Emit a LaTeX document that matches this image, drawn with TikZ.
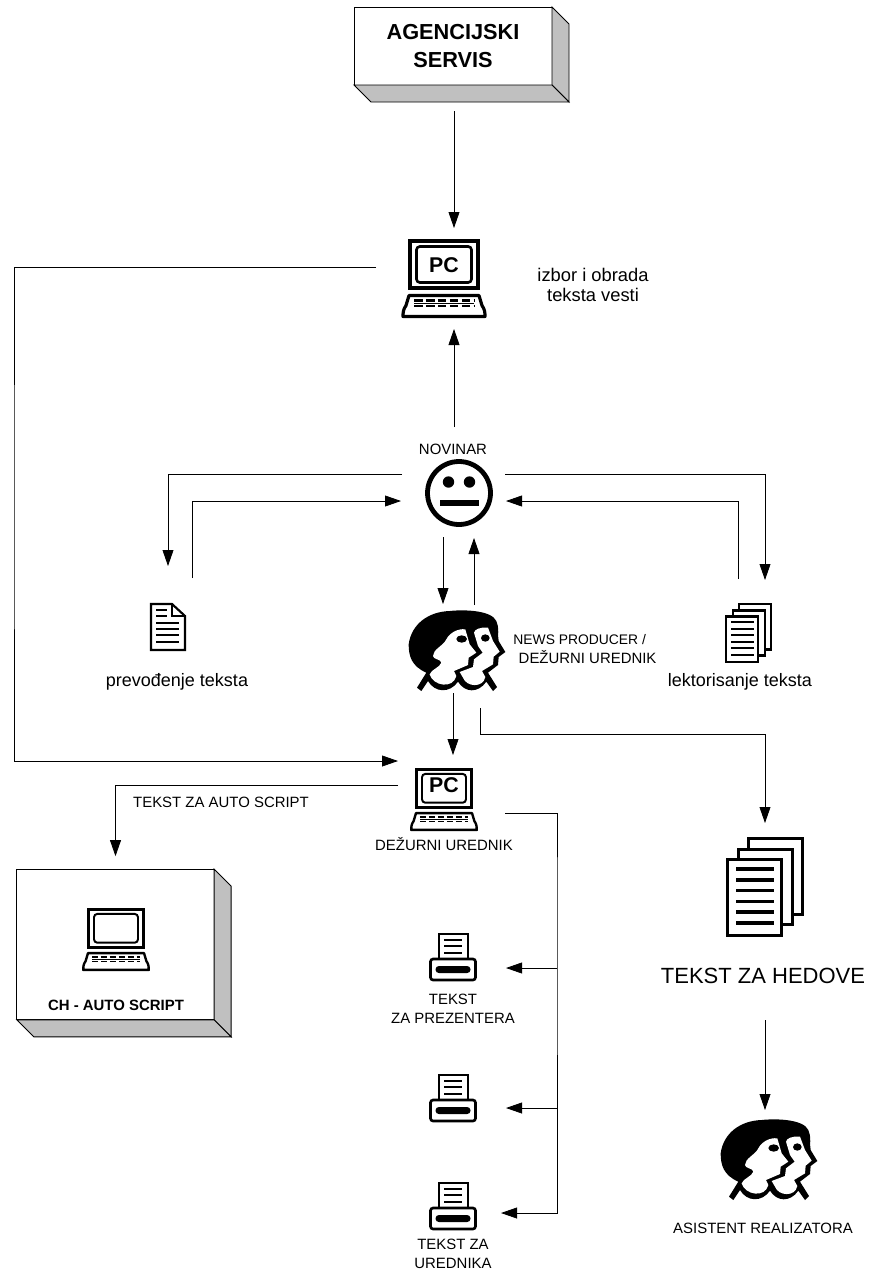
\documentclass[tikz,border=0pt]{standalone}
\usepackage{fontspec}
\setmainfont{Liberation Sans}
\usetikzlibrary{calc}
\usetikzlibrary{shapes,arrows.meta}
\definecolor{sidegray}{HTML}{C0C0C0}

\tikzset{
  pics/computer/.style={code={
    \draw[line width=#1] (-34,-37.5) rectangle (34,9.5);
    \draw[line width=.7*#1,rounded corners=2.5pt] (-27.5,-32) rectangle (27.5,4);
    \draw[line width=#1*.85,line join=round] (-35,17) -- (35,17) -- (38,27) .. controls (41,31) and (41,35) .. (41,38) -- (-41,38) .. controls (-41,35) and (-41,31) .. (-38,27) -- cycle;
    \draw[line width=.6*#1,dash pattern=on 2.3*#1 off .9*#1] (-30,22) -- (30,22);
    \draw[line width=.6*#1,dash pattern=on 2.3*#1 off .9*#1] (-30,27.5) -- (30,27.5);
    \draw[line width=.25*#1] (-30,24.7) -- (30,24.7);
  }},
  heads/.pic={
    \begin{scope}[x=.25pt,y=-.25pt,shift={(-237,-180)}]
      \fill[black] (92,160) .. controls (100,100) and (150,62) .. (215,60) .. controls (260,55) and (340,58) .. (355,90) .. controls (365,110) and (358,135) .. (362,150) -- (382,183) -- (362,198) -- (360,222) -- (330,245) -- (357,288) -- (345,300) -- (325,272) .. controls (300,308) and (260,305) .. (240,272) .. controls (215,308) and (170,305) .. (150,270) -- (130,300) -- (117,290) -- (145,245) .. controls (100,225) and (92,195) .. (92,160) -- cycle;
      \fill[white] (262,115) .. controls (240,112) and (215,125) .. (205,145) .. controls (195,165) and (165,175) .. (165,195) .. controls (165,205) and (190,205) .. (190,215) .. controls (185,230) and (160,235) .. (155,250) .. controls (165,285) and (225,295) .. (235,255) -- (228,240) -- (270,222) -- (272,200) -- (295,185) -- (275,160) -- cycle;
      \fill[white] (330,110) .. controls (305,108) and (290,115) .. (288,125) -- (300,165) -- (314,185) -- (288,205) -- (285,228) -- (245,243) -- (255,260) .. controls (265,288) and (315,292) .. (322,258) -- (312,240) -- (345,220) -- (347,197) -- (365,182) -- (345,150) -- cycle;
      \fill[black] (251,144) ellipse (16 and 11);
      \fill[black] (322,141) ellipse (13 and 11);
    \end{scope}
  },
  page/.pic={
    \draw (-17,-23) -- (4,-23) -- (17,-11) -- (17,23) -- (-17,23) -- cycle;
    \draw (4,-23) -- (4,-11) -- (17,-11);
    \draw (-12,-17) -- (-1,-17);
    \draw (-12,-11) -- (-1,-11);
    \draw (-12,-4) -- (11,-4);
    \draw (-12,2) -- (11,2);
    \draw (-12,8) -- (11,8);
    \draw (-12,15) -- (11,15);
  },
  pagestack/.pic={
    \draw[fill=white] (-16.5,-48.5) rectangle (37.5,27.5);
    \draw[fill=white] (-26.5,-37.5) rectangle (27.5,37.5);
    \draw[fill=white] (-37.5,-27.5) rectangle (16.5,48.5);
    \foreach \liney in {-18,-7.2,3.6,14.4,25.2,36} {
      \draw (-29,\liney) -- (9,\liney);
    }
  },
  printer/.pic={
    \draw[fill=white,line width=1.5pt] (-14.5,-36) rectangle (14.5,-11);
    \draw[line width=1.5pt] (-9,-29.5) -- (9,-29.5);
    \draw[line width=1.5pt] (-9,-23.5) -- (9,-23.5);
    \draw[line width=1.5pt] (-9,-17) -- (9,-17);
    \draw[fill=white,line width=2pt,rounded corners=2pt] (-22.5,-10.5) rectangle (22.5,10.5);
    \fill[black,rounded corners=2.5pt] (-17.5,-3.5) rectangle (17.5,3.5);
  }
}

\begin{document}
\begin{tikzpicture}[x=.75pt,y=-.75pt,>={Triangle[length=12pt,width=8.2pt]},line width=.6pt,
  iconbox/.style={rectangle,inner sep=0pt,outer sep=0pt},
  raisedbox/.style={rectangle,draw,fill=white,inner sep=0pt,outer sep=0pt,line width=.7pt},
  txt/.style={font=\fontsize{11.2pt}{14.5pt}\selectfont,align=center,inner sep=0pt,text=black}]
\useasboundingbox (0,0) rectangle (872,1275);

% raised boxes
\node[raisedbox,minimum width=148.5pt,minimum height=58.5pt,align=center,font=\fontsize{16.3pt}{21pt}\selectfont\bfseries] (agencija) at (453,46) {AGENCIJSKI\\SERVIS};
\node[raisedbox,minimum width=148pt,minimum height=113pt] (chauto) at (115.5,944.5) {};
\foreach \boxname in {agencija,chauto} {
  \draw[fill=sidegray,line width=.7pt] (\boxname.north east) -- ++(17,17) -- ($(\boxname.south east)+(17,17)$) -- (\boxname.south east) -- cycle;
  \draw[fill=sidegray,line width=.7pt] (\boxname.south west) -- ++(17,17) -- ($(\boxname.south east)+(17,17)$) -- (\boxname.south east) -- cycle;
}

% icon places
\node[iconbox,minimum width=63pt,minimum height=59.25pt] (pctop) at (444,278.5) {};
\node[iconbox,minimum width=52.5pt,minimum height=52.5pt] (novinar) at (459,493) {};
\node[iconbox,minimum width=72pt,minimum height=61.5pt] (prod) at (457,651) {};
\node[iconbox,minimum width=27pt,minimum height=36pt] (prevod) at (168,627) {};
\node[iconbox,minimum width=35.25pt,minimum height=45pt] (lektor) at (748.5,633) {};
\node[iconbox,minimum width=51pt,minimum height=47.25pt] (pcmid) at (444,799.5) {};
\node[iconbox,minimum width=58.5pt,minimum height=75pt] (hedovi) at (765,887) {};
\node[iconbox,minimum width=72pt,minimum height=61.5pt] (asistent) at (769,1160) {};
\node[iconbox,minimum width=36pt,minimum height=19.5pt] (prone) at (453,968) {};
\node[iconbox,minimum width=36pt,minimum height=21pt] (prtwo) at (453,1108) {};
\node[iconbox,minimum width=36pt,minimum height=25.5pt] (prthree) at (453,1213) {};

% icons
\pic at (pctop) {computer=2.8pt};
\pic[scale=.8] at (pcmid) {computer=2.1pt};
\pic[scale=.8] at (116,939.5) {computer=2.1pt};
\draw[line width=3.6pt] (novinar) circle (31.5);
\fill (448.5,482) circle (5.7);
\fill (469.5,482) circle (5.7);
\fill (439.5,499.5) rectangle (478.5,505.5);
\pic at (prod) {heads};
\pic at (asistent) {heads};
\pic[line width=1.6pt] at (prevod) {page};
\pic[line width=1.6pt,scale=.6] at (lektor) {pagestack};
\pic[line width=2.6pt] at (hedovi) {pagestack};
\pic at (453,969.5) {printer};
\pic at (453,1110.5) {printer};
\pic at (453,1218.5) {printer};

% texts
\node[font=\fontsize{16pt}{18pt}\selectfont\bfseries,inner sep=0pt] (pctoplabel) at (444,265) {PC};
\node[font=\fontsize{16pt}{18pt}\selectfont\bfseries,inner sep=0pt] (pcmidlabel) at (444,785) {PC};
\node[txt,font=\fontsize{13.75pt}{15.25pt}\selectfont] (izbor) at (593,285) {izbor i obrada\\ teksta vesti};
\node[txt] (novinarlabel) at (453,449) {NOVINAR};
\node[txt,align=left,anchor=west] (prodlabel) at (513,649) {{\fontsize{10.4pt}{14.5pt}\selectfont NEWS PRODUCER /}\\ \hspace*{4pt}DEŽURNI UREDNIK};
\node[txt,font=\fontsize{13.5pt}{15pt}\selectfont] (prevodlabel) at (177,682) {prevođenje teksta};
\node[txt,font=\fontsize{13.5pt}{15pt}\selectfont] (lektorlabel) at (740,682) {lektorisanje teksta};
\node[txt] (pcmidname) at (444,844) {DEŽURNI UREDNIK};
\node[txt] (autolabel) at (221,802) {TEKST ZA AUTO SCRIPT};
\node[font=\fontsize{11.2pt}{14pt}\selectfont\bfseries,inner sep=0pt] (chlabel) at (116,1005) {CH - AUTO SCRIPT};
\node[txt,font=\fontsize{16.5pt}{20pt}\selectfont,minimum height=21pt] (hedlabel) at (763,976) {TEKST ZA HEDOVE};
\node[txt] (prezlabel) at (453,1009) {TEKST\\ZA PREZENTERA};
\node[txt] (urednlabel) at (453,1254) {TEKST ZA\\UREDNIKA};
\node[txt] (asistlabel) at (763,1228) {ASISTENT REALIZATORA};

% bends
\coordinate (leftbus) at (14,500);
\coordinate (printbus) at (557,900);
\coordinate (hedbend) at (765,734);

% connectors
\draw [->,shorten <=19.5pt,shorten >=8.25pt] ($(agencija.south)+(1,0)$) -- ($(pctop.north)+(10,0)$);
\draw [->,shorten <=19.5pt,shorten >=9pt] ($(pctop.west)+(0,-11.5)$) -| (leftbus) |- ($(pcmid.west)+(0,-38.5)$);
\draw [->,shorten <=23.25pt,shorten >=8.25pt] ($(novinar.north)+(-5,0)$) -- ($(pctop.south)+(10,0)$);
\draw [->,shorten <=16.5pt,shorten >=27.75pt] ($(novinar.west)+(0,-19)$) -| (prevod.north);
\draw [->,shorten <=18.75pt,shorten >=17.25pt] ($(prevod.north)+(24,0)$) |- ($(novinar.west)+(0,8)$);
\draw [->,shorten <=8.25pt,shorten >=17.25pt] ($(novinar.east)+(0,-19)$) -| ($(lektor.north)+(16.5,0)$);
\draw [->,shorten <=18pt,shorten >=9pt] ($(lektor.north)+(-10.5,0)$) |- ($(novinar.east)+(0,8)$);
\draw [->,shorten <=6.75pt,shorten >=4.5pt] ($(novinar.south)+(-16,0)$) -- ($(prod.north)+(-14,0)$);
\draw [->,shorten <=3.75pt,shorten >=7.5pt] ($(prod.north)+(17,0)$) -- ($(novinar.south)+(15,0)$);
\draw [->,shorten <=.75pt,shorten >=9.75pt] ($(prod.south)+(-4,0)$) -- ($(pcmid.north)+(9,0)$);
\draw [->,shorten <=12pt,shorten >=10.5pt] ($(prod.south)+(23,0)$) |- (hedbend) -- (hedovi.north);
\draw [->,shorten <=9pt,shorten >=9.75pt] ($(pcmid.west)+(0,-14.5)$) -| (chauto.north);
\draw [->,shorten <=20.25pt,shorten >=18pt] ($(pcmid.east)+(0,13.5)$) -| (printbus) |- (prthree.east);
\draw [->,shorten >=21.75pt] (printbus |- prone.east) -- (prone.east);
\draw [->,shorten >=21.75pt] (printbus |- prtwo.east) -- (prtwo.east);
\draw [->,shorten <=22.5pt,shorten >=6.75pt] ($(hedlabel.south)+(2,0)$) -- ($(asistent.north)+(-4,0)$);

\end{tikzpicture}
\end{document}
